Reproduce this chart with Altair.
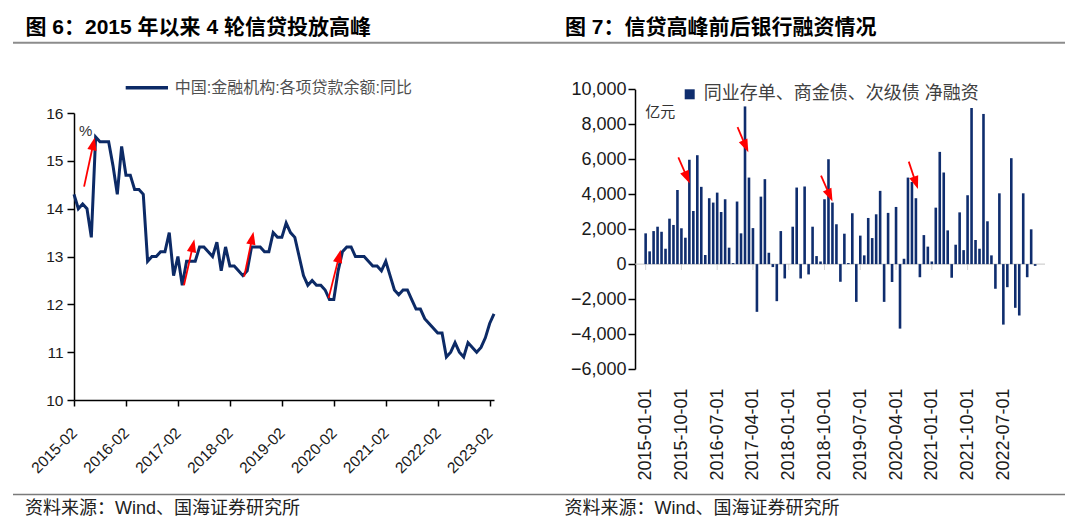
import math
import altair as alt
import pandas as pd

# ---------------- text ----------------
TITLE_6 = "图 6：2015 年以来 4 轮信贷投放高峰"
TITLE_7 = "图 7：信贷高峰前后银行融资情况"
SOURCE = "资料来源：Wind、国海证券研究所"
LEGEND_6 = "中国:金融机构:各项贷款余额:同比"
LEGEND_7 = "同业存单、商金债、次级债 净融资"
UNIT_6 = "%"
UNIT_7 = "亿元"

# ---------------- data: figure 6 (monthly, 2015-02 .. 2023-03) ----------------
LOAN_TICKS = ["2015-02", "2016-02", "2017-02", "2018-02", "2019-02",
              "2020-02", "2021-02", "2022-02", "2023-02"]
LOAN_YOY = [
    14.3, 14.0, 14.1, 14.0, 13.4, 15.5, 15.4, 15.4, 15.4, 14.9, 14.3,
    15.3, 14.7, 14.7, 14.4, 14.4, 14.3, 12.9, 13.0, 13.0, 13.1, 13.1, 13.5,
    12.6, 13.0, 12.4, 12.9, 12.9, 12.9, 13.2, 13.2, 13.1, 13.0, 13.3, 12.7,
    13.2, 12.8, 12.8, 12.7, 12.6, 12.7, 13.2, 13.2, 13.2, 13.1, 13.1, 13.5,
    13.4, 13.4, 13.7, 13.5, 13.4, 13.0, 12.6, 12.4, 12.5, 12.4, 12.4, 12.3,
    12.1, 12.1, 12.7, 13.1, 13.2, 13.2, 13.0, 13.0, 13.0, 12.9, 12.8, 12.8,
    12.7, 12.9, 12.6, 12.3, 12.2, 12.3, 12.3, 12.1, 11.9, 11.9, 11.7, 11.6,
    11.5, 11.4, 11.4, 10.9, 11.0, 11.2, 11.0, 10.9, 11.2, 11.1, 11.0, 11.1,
    11.3, 11.6, 11.8,
]

# ---------------- data: figure 7 (monthly, 2015-01 .. 2023-03, 亿元) ----------------
FIN_TICKS = ["2015-01-01", "2015-10-01", "2016-07-01", "2017-04-01", "2018-01-01",
             "2018-10-01", "2019-07-01", "2020-04-01", "2021-01-01", "2021-10-01",
             "2022-07-01"]
FIN_NET = [
    1760, 730, 1890, 2140, 1850, 880, 2600, 2240, 4240, 2050,
    1510, 5970, 3040, 6230, 4420, 520, 3770, 3520, 4090, 2980,
    3710, 940, 60, 3580, 1760, 9020, 4950, 2060, -2730, 3860,
    4860, 650, -170, -2120, 1890, -820, 0, 2140, 4380, -820,
    4440, -590, 2140, 460, 150, 3710, 6000, 3520, 2280, -1010,
    1740, 60, 2910, -2160, 1630, 500, 2640, 1490, 2850, 4190,
    -2160, 2930, -1030, 3270, -3690, 306, 4950, 4700, 3770, -750,
    1660, 1000, 150, 3230, 6420, 5240, 1930, -780, 1110, 2960,
    800, 3940, 8930, 1380, 880, 8590, 2450, 500, -1410, 4050,
    -3460, -1320, 6060, -2500, -2940, 4050, -750, 1990, -100,
]

# red arrows (month index, value): start -> tip
ARROW6_START = [(2.33, 14.46), (25.4, 12.40), (39.3, 12.58), (58.8, 12.13)]
ARROW6_TIP = [(4.78, 15.49), (27.8, 13.36), (41.45, 13.52), (61.6, 13.14)]
ARROW7_START = [(8.22, 6109), (23.12, 7833), (44.13, 5057), (66.2, 5862)]
ARROW7_TIP = [(11.09, 4615), (25.82, 6397), (47.0, 3580), (68.5, 4293)]

# ---------------- styles / layout ----------------
NAVY = "#0c2a66"
BAR = "#0f2d6e"
RED = "#ff0000"
FONT_NUM = "Liberation Sans, Arial, sans-serif"
FONT_CJK = "Liberation Sans, Noto Sans CJK SC, sans-serif"
HEAD = "M0,-1L0.72,1L-0.72,1Z"
HEAD_LEN = 13.0

# panel 6: plot area 420 wide, y from 105 (top) to 392 (bottom) inside its view
W6, V6 = 420, 392
Y6_RANGE = [392, 105]
X6_DOM = [0, 97]
Y6_DOM = [10, 16]
# panel 7: plot area 410 wide, y from 81.3 to 361 inside its view
W7, V7 = 410, 361
Y7_RANGE = [361, 81.3]
X7_DOM = [-1.42, 99.22]
Y7_DOM = [-6000, 10000]

ONE = pd.DataFrame({"k": [0]})


def arrows(starts, tips, w, h, xd, yd):
    pxx = w / (xd[1] - xd[0])
    pxy = h / (yd[1] - yd[0])
    rows = []
    for (sx, sy), (tx, ty) in zip(starts, tips):
        dx = (tx - sx) * pxx
        dy = -(ty - sy) * pxy
        d = math.hypot(dx, dy)
        ux, uy = dx / d, dy / d
        ang = math.degrees(math.atan2(dx, -dy)) % 360
        hx = tx - (HEAD_LEN / 2) * ux / pxx
        hy = ty + (HEAD_LEN / 2) * uy / pxy
        rows.append({"idx": sx, "val": sy, "idx2": hx, "val2": hy,
                     "hx": hx, "hy": hy, "ang": ang})
    return pd.DataFrame(rows)


# ---------------- figure 6 ----------------
df6 = pd.DataFrame({"idx": list(range(len(LOAN_YOY))), "val": LOAN_YOY})
arr6 = arrows(ARROW6_START, ARROW6_TIP, W6, Y6_RANGE[0] - Y6_RANGE[1], X6_DOM, Y6_DOM)

left_expr = "[" + ",".join(f"'{s}'" for s in LOAN_TICKS) + "][round(datum.value/12)]"
sx6 = alt.Scale(domain=X6_DOM, nice=False, zero=False)
sy6 = alt.Scale(domain=Y6_DOM, range=Y6_RANGE, nice=False, zero=False)
ax6 = alt.Axis(values=[12 * i for i in range(len(LOAN_TICKS))], labelExpr=left_expr,
               labelAngle=-45, labelAlign="right", labelBaseline="middle",
               tickSize=6, labelPadding=24, title=None, grid=False,
               labelFont=FONT_NUM, labelFontSize=15.5, labelColor="#1a1a1a",
               domainColor="#000", tickColor="#000", domainWidth=1.5, tickWidth=1.5)
ay6 = alt.Axis(values=list(range(10, 17)), tickSize=7, labelPadding=4, title=None,
               grid=False, labelFont=FONT_NUM, labelFontSize=15.5, labelColor="#1a1a1a",
               labelExpr="format(datum.value, 'd')",
               domainColor="#000", tickColor="#000", domainWidth=1.5, tickWidth=1.5)

line6 = alt.Chart(df6).mark_line(color=NAVY, strokeWidth=3).encode(
    x=alt.X("idx:Q", scale=sx6, axis=ax6),
    y=alt.Y("val:Q", scale=sy6, axis=ay6),
)
shaft6 = alt.Chart(arr6).mark_rule(color=RED, strokeWidth=1.8).encode(
    x=alt.X("idx:Q", scale=sx6, axis=ax6), y=alt.Y("val:Q", scale=sy6, axis=ay6),
    x2="idx2:Q", y2="val2:Q")
head6 = alt.Chart(arr6).mark_point(shape=HEAD, filled=True, color=RED, opacity=1,
                                   size=HEAD_LEN ** 2, strokeWidth=0).encode(
    x=alt.X("hx:Q", scale=sx6, axis=ax6), y=alt.Y("hy:Q", scale=sy6, axis=ay6),
    angle=alt.Angle("ang:Q", scale=None))
leg6_line = alt.Chart(ONE).mark_rule(color=NAVY, strokeWidth=3.5).encode(
    x=alt.value(51.7), x2=alt.value(94), y=alt.value(79.7))
leg6_text = alt.Chart(ONE).mark_text(text=LEGEND_6, align="left", baseline="middle",
                                     font=FONT_CJK, fontSize=16, color="#505050").encode(
    x=alt.value(100.7), y=alt.value(79.7))
unit6 = alt.Chart(ONE).mark_text(text=UNIT_6, align="left", baseline="middle",
                                 font=FONT_NUM, fontSize=15, color="#333").encode(
    x=alt.value(5), y=alt.value(123))

plot6 = alt.layer(line6, shaft6, head6, leg6_line, leg6_text, unit6).properties(
    width=W6, height=V6)

# ---------------- figure 7 ----------------
df7 = pd.DataFrame({"idx": list(range(len(FIN_NET))), "val": FIN_NET})
arr7 = arrows(ARROW7_START, ARROW7_TIP, W7, Y7_RANGE[0] - Y7_RANGE[1], X7_DOM, Y7_DOM)
ticks7 = pd.DataFrame({"idx": [9 * i for i in range(len(FIN_TICKS))],
                       "val": [0] * len(FIN_TICKS)})
zero7 = pd.DataFrame({"val": [0]})

right_expr = "[" + ",".join(f"'{s}'" for s in FIN_TICKS) + "][round(datum.value/9)]"
sx7 = alt.Scale(domain=X7_DOM, nice=False, zero=False)
sy7 = alt.Scale(domain=Y7_DOM, range=Y7_RANGE, nice=False, zero=False)
ax7 = alt.Axis(values=[9 * i for i in range(len(FIN_TICKS))], labelExpr=right_expr,
               labelAngle=-90, labelAlign="right", labelBaseline="middle",
               ticks=False, tickSize=0, domain=False, labelPadding=19, title=None,
               grid=False, labelFont=FONT_NUM, labelFontSize=18, labelColor="#1a1a1a")
ay7 = alt.Axis(values=list(range(-6000, 10001, 2000)),
               labelExpr="format(datum.value, ',d')", tickSize=7,
               labelPadding=2, title=None, grid=False, labelFont=FONT_NUM,
               labelFontSize=18, labelColor="#1a1a1a", domainColor="#000",
               tickColor="#000", domainWidth=1.5, tickWidth=1.5)

zline7 = alt.Chart(zero7).mark_rule(color="#c4c4c4", strokeWidth=1).encode(
    y=alt.Y("val:Q", scale=sy7, axis=ay7))
zticks7 = alt.Chart(ticks7).mark_tick(orient="vertical", size=6, thickness=1,
                                      color="#c4c4c4", yOffset=3).encode(
    x=alt.X("idx:Q", scale=sx7, axis=ax7), y=alt.Y("val:Q", scale=sy7, axis=ay7))
bars7 = alt.Chart(df7).mark_bar(color=BAR, size=2.6).encode(
    x=alt.X("idx:Q", scale=sx7, axis=ax7),
    y=alt.Y("val:Q", scale=sy7, axis=ay7),
)
shaft7 = alt.Chart(arr7).mark_rule(color=RED, strokeWidth=1.8).encode(
    x=alt.X("idx:Q", scale=sx7, axis=ax7), y=alt.Y("val:Q", scale=sy7, axis=ay7),
    x2="idx2:Q", y2="val2:Q")
head7 = alt.Chart(arr7).mark_point(shape=HEAD, filled=True, color=RED, opacity=1,
                                   size=HEAD_LEN ** 2, strokeWidth=0).encode(
    x=alt.X("hx:Q", scale=sx7, axis=ax7), y=alt.Y("hy:Q", scale=sy7, axis=ay7),
    angle=alt.Angle("ang:Q", scale=None))
leg7_sq = alt.Chart(ONE).mark_point(shape="square", filled=True, color=BAR, opacity=1,
                                    size=100).encode(x=alt.value(54.7), y=alt.value(86.3))
leg7_text = alt.Chart(ONE).mark_text(text=LEGEND_7, align="left", baseline="middle",
                                     font=FONT_CJK, fontSize=18, color="#404040").encode(
    x=alt.value(68.7), y=alt.value(86.3))
unit7 = alt.Chart(ONE).mark_text(text=UNIT_7, align="left", baseline="middle",
                                 font=FONT_CJK, fontSize=15, color="#333").encode(
    x=alt.value(10.3), y=alt.value(103.7))

plot7 = alt.layer(zline7, zticks7, bars7, shaft7, head7, leg7_sq, leg7_text,
                  unit7).properties(width=W7, height=V7)

# ---------------- titles, rules and sources (first column) ----------------
FULL_W = 1053
decor = alt.layer(
    alt.Chart(ONE).mark_rule(color="#8c8c8c", strokeWidth=2).encode(
        x=alt.value(1), x2=alt.value(FULL_W), y=alt.value(34.7)),
    alt.Chart(ONE).mark_text(text=TITLE_6, align="left", baseline="middle", font=FONT_CJK,
                             fontSize=21, fontWeight="bold", color="#000").encode(
        x=alt.value(13.5), y=alt.value(19.5)),
    alt.Chart(ONE).mark_text(text=TITLE_7, align="left", baseline="middle", font=FONT_CJK,
                             fontSize=21, fontWeight="bold", color="#000").encode(
        x=alt.value(553), y=alt.value(19.5)),
    alt.Chart(ONE).mark_rule(color="#7a7a7a", strokeWidth=1.5).encode(
        x=alt.value(1), x2=alt.value(FULL_W), y=alt.value(486.4)),
    alt.Chart(ONE).mark_text(text=SOURCE, align="left", baseline="middle", font=FONT_CJK,
                             fontSize=18, color="#222").encode(
        x=alt.value(13), y=alt.value(501)),
    alt.Chart(ONE).mark_text(text=SOURCE, align="left", baseline="middle", font=FONT_CJK,
                             fontSize=18, color="#222").encode(
        x=alt.value(552.5), y=alt.value(501)),
).properties(width=62, height=1)

gap = alt.Chart(ONE).mark_rule(opacity=0).encode(
    x=alt.value(20), x2=alt.value(30), y=alt.value(20)).properties(width=141, height=1)

chart = alt.hconcat(decor, plot6, gap, plot7, spacing=0, bounds="flush").properties(
    padding={"left": 4, "top": 0, "right": 0, "bottom": 0}, background="white"
).configure_view(strokeWidth=0, stroke=None)

chart.save("out.html", embed_options={"renderer": "svg", "actions": False})
